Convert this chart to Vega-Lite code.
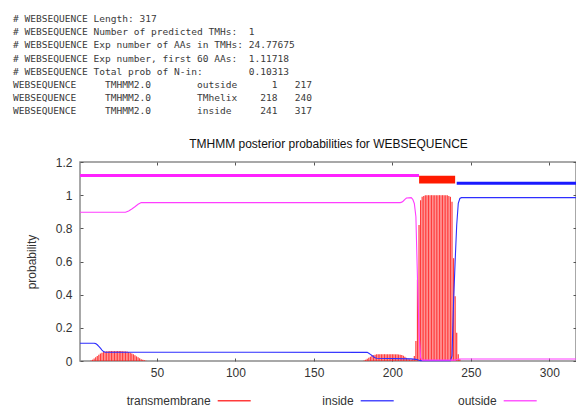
{
  "$schema": "https://vega.github.io/schema/vega-lite/v6.json",
  "width": 496,
  "height": 199,
  "autosize": {"type": "none"},
  "padding": {"left": 80, "top": 162, "right": 0, "bottom": 49},
  "background": "white",
  "title": {
    "text": [
      "# WEBSEQUENCE Length: 317",
      "# WEBSEQUENCE Number of predicted TMHs:\u00a0\u00a01",
      "# WEBSEQUENCE Exp number of AAs in TMHs: 24.77675",
      "# WEBSEQUENCE Exp number, first 60 AAs:\u00a0\u00a01.11718",
      "# WEBSEQUENCE Total prob of N-in:\u00a0\u00a0\u00a0\u00a0\u00a0\u00a0\u00a0\u00a00.10313",
      "WEBSEQUENCE\u00a0\u00a0\u00a0\u00a0\u00a0TMHMM2.0\u00a0\u00a0\u00a0\u00a0\u00a0\u00a0\u00a0\u00a0outside\u00a0\u00a0\u00a0\u00a0\u00a0\u00a01\u00a0\u00a0\u00a0217",
      "WEBSEQUENCE\u00a0\u00a0\u00a0\u00a0\u00a0TMHMM2.0\u00a0\u00a0\u00a0\u00a0\u00a0\u00a0\u00a0\u00a0TMhelix\u00a0\u00a0\u00a0\u00a0218\u00a0\u00a0\u00a0240",
      "WEBSEQUENCE\u00a0\u00a0\u00a0\u00a0\u00a0TMHMM2.0\u00a0\u00a0\u00a0\u00a0\u00a0\u00a0\u00a0\u00a0inside\u00a0\u00a0\u00a0\u00a0\u00a0241\u00a0\u00a0\u00a0317"
    ],
    "anchor": "start",
    "frame": "group",
    "dx": -67,
    "offset": 22,
    "font": "DejaVu Sans Mono",
    "fontSize": 9.56,
    "fontWeight": "normal",
    "lineHeight": 13.1,
    "color": "#3a3a3a"
  },
  "datasets": {
    "posterior": [
      {"series": "transmembrane", "pos": 8, "p": 0.003},
      {"series": "transmembrane", "pos": 9, "p": 0.008},
      {"series": "transmembrane", "pos": 10, "p": 0.015},
      {"series": "transmembrane", "pos": 11, "p": 0.022},
      {"series": "transmembrane", "pos": 12, "p": 0.03},
      {"series": "transmembrane", "pos": 13, "p": 0.038},
      {"series": "transmembrane", "pos": 14, "p": 0.045},
      {"series": "transmembrane", "pos": 15, "p": 0.05},
      {"series": "transmembrane", "pos": 16, "p": 0.054},
      {"series": "transmembrane", "pos": 17, "p": 0.057},
      {"series": "transmembrane", "pos": 18, "p": 0.059},
      {"series": "transmembrane", "pos": 19, "p": 0.059},
      {"series": "transmembrane", "pos": 20, "p": 0.06},
      {"series": "transmembrane", "pos": 21, "p": 0.06},
      {"series": "transmembrane", "pos": 22, "p": 0.06},
      {"series": "transmembrane", "pos": 23, "p": 0.06},
      {"series": "transmembrane", "pos": 24, "p": 0.06},
      {"series": "transmembrane", "pos": 25, "p": 0.06},
      {"series": "transmembrane", "pos": 26, "p": 0.06},
      {"series": "transmembrane", "pos": 27, "p": 0.06},
      {"series": "transmembrane", "pos": 28, "p": 0.059},
      {"series": "transmembrane", "pos": 29, "p": 0.059},
      {"series": "transmembrane", "pos": 30, "p": 0.058},
      {"series": "transmembrane", "pos": 31, "p": 0.057},
      {"series": "transmembrane", "pos": 32, "p": 0.054},
      {"series": "transmembrane", "pos": 33, "p": 0.05},
      {"series": "transmembrane", "pos": 34, "p": 0.045},
      {"series": "transmembrane", "pos": 35, "p": 0.04},
      {"series": "transmembrane", "pos": 36, "p": 0.034},
      {"series": "transmembrane", "pos": 37, "p": 0.028},
      {"series": "transmembrane", "pos": 38, "p": 0.022},
      {"series": "transmembrane", "pos": 39, "p": 0.016},
      {"series": "transmembrane", "pos": 40, "p": 0.011},
      {"series": "transmembrane", "pos": 41, "p": 0.007},
      {"series": "transmembrane", "pos": 42, "p": 0.004},
      {"series": "transmembrane", "pos": 43, "p": 0.002},
      {"series": "transmembrane", "pos": 182, "p": 0.003},
      {"series": "transmembrane", "pos": 183, "p": 0.008},
      {"series": "transmembrane", "pos": 184, "p": 0.014},
      {"series": "transmembrane", "pos": 185, "p": 0.02},
      {"series": "transmembrane", "pos": 186, "p": 0.026},
      {"series": "transmembrane", "pos": 187, "p": 0.031},
      {"series": "transmembrane", "pos": 188, "p": 0.035},
      {"series": "transmembrane", "pos": 189, "p": 0.038},
      {"series": "transmembrane", "pos": 190, "p": 0.04},
      {"series": "transmembrane", "pos": 191, "p": 0.04},
      {"series": "transmembrane", "pos": 192, "p": 0.041},
      {"series": "transmembrane", "pos": 193, "p": 0.041},
      {"series": "transmembrane", "pos": 194, "p": 0.041},
      {"series": "transmembrane", "pos": 195, "p": 0.041},
      {"series": "transmembrane", "pos": 196, "p": 0.041},
      {"series": "transmembrane", "pos": 197, "p": 0.041},
      {"series": "transmembrane", "pos": 198, "p": 0.041},
      {"series": "transmembrane", "pos": 199, "p": 0.041},
      {"series": "transmembrane", "pos": 200, "p": 0.04},
      {"series": "transmembrane", "pos": 201, "p": 0.04},
      {"series": "transmembrane", "pos": 202, "p": 0.04},
      {"series": "transmembrane", "pos": 203, "p": 0.04},
      {"series": "transmembrane", "pos": 204, "p": 0.039},
      {"series": "transmembrane", "pos": 205, "p": 0.038},
      {"series": "transmembrane", "pos": 206, "p": 0.036},
      {"series": "transmembrane", "pos": 207, "p": 0.032},
      {"series": "transmembrane", "pos": 208, "p": 0.026},
      {"series": "transmembrane", "pos": 209, "p": 0.019},
      {"series": "transmembrane", "pos": 210, "p": 0.014},
      {"series": "transmembrane", "pos": 211, "p": 0.01},
      {"series": "transmembrane", "pos": 212, "p": 0.009},
      {"series": "transmembrane", "pos": 213, "p": 0.012},
      {"series": "transmembrane", "pos": 214, "p": 0.03},
      {"series": "transmembrane", "pos": 215, "p": 0.12},
      {"series": "transmembrane", "pos": 216, "p": 0.49},
      {"series": "transmembrane", "pos": 217, "p": 0.82},
      {"series": "transmembrane", "pos": 218, "p": 0.97},
      {"series": "transmembrane", "pos": 219, "p": 0.99},
      {"series": "transmembrane", "pos": 220, "p": 0.995},
      {"series": "transmembrane", "pos": 221, "p": 1.0},
      {"series": "transmembrane", "pos": 222, "p": 1.0},
      {"series": "transmembrane", "pos": 223, "p": 1.0},
      {"series": "transmembrane", "pos": 224, "p": 1.0},
      {"series": "transmembrane", "pos": 225, "p": 1.0},
      {"series": "transmembrane", "pos": 226, "p": 1.0},
      {"series": "transmembrane", "pos": 227, "p": 1.0},
      {"series": "transmembrane", "pos": 228, "p": 1.0},
      {"series": "transmembrane", "pos": 229, "p": 1.0},
      {"series": "transmembrane", "pos": 230, "p": 1.0},
      {"series": "transmembrane", "pos": 231, "p": 1.0},
      {"series": "transmembrane", "pos": 232, "p": 1.0},
      {"series": "transmembrane", "pos": 233, "p": 1.0},
      {"series": "transmembrane", "pos": 234, "p": 1.0},
      {"series": "transmembrane", "pos": 235, "p": 1.0},
      {"series": "transmembrane", "pos": 236, "p": 0.995},
      {"series": "transmembrane", "pos": 237, "p": 0.99},
      {"series": "transmembrane", "pos": 238, "p": 0.96},
      {"series": "transmembrane", "pos": 239, "p": 0.62},
      {"series": "transmembrane", "pos": 240, "p": 0.39},
      {"series": "transmembrane", "pos": 241, "p": 0.17},
      {"series": "transmembrane", "pos": 242, "p": 0.04},
      {"series": "transmembrane", "pos": 243, "p": 0.01},
      {"series": "inside", "pos": 1, "p": 0.107},
      {"series": "inside", "pos": 10, "p": 0.107},
      {"series": "inside", "pos": 11, "p": 0.105},
      {"series": "inside", "pos": 12, "p": 0.098},
      {"series": "inside", "pos": 13, "p": 0.088},
      {"series": "inside", "pos": 14, "p": 0.077},
      {"series": "inside", "pos": 15, "p": 0.066},
      {"series": "inside", "pos": 16, "p": 0.057},
      {"series": "inside", "pos": 17, "p": 0.053},
      {"series": "inside", "pos": 184, "p": 0.052},
      {"series": "inside", "pos": 185, "p": 0.047},
      {"series": "inside", "pos": 186, "p": 0.04},
      {"series": "inside", "pos": 187, "p": 0.033},
      {"series": "inside", "pos": 188, "p": 0.026},
      {"series": "inside", "pos": 189, "p": 0.02},
      {"series": "inside", "pos": 190, "p": 0.017},
      {"series": "inside", "pos": 212, "p": 0.013},
      {"series": "inside", "pos": 215, "p": 0.01},
      {"series": "inside", "pos": 217, "p": 0.004},
      {"series": "inside", "pos": 218, "p": 0.002},
      {"series": "inside", "pos": 237, "p": 0.002},
      {"series": "inside", "pos": 238, "p": 0.03},
      {"series": "inside", "pos": 239, "p": 0.36},
      {"series": "inside", "pos": 240, "p": 0.6},
      {"series": "inside", "pos": 241, "p": 0.82},
      {"series": "inside", "pos": 242, "p": 0.95},
      {"series": "inside", "pos": 243, "p": 0.98},
      {"series": "inside", "pos": 244, "p": 0.985},
      {"series": "inside", "pos": 317, "p": 0.985},
      {"series": "outside", "pos": 1, "p": 0.897},
      {"series": "outside", "pos": 30, "p": 0.897},
      {"series": "outside", "pos": 32, "p": 0.905},
      {"series": "outside", "pos": 34, "p": 0.917},
      {"series": "outside", "pos": 36, "p": 0.93},
      {"series": "outside", "pos": 38, "p": 0.945},
      {"series": "outside", "pos": 40, "p": 0.955},
      {"series": "outside", "pos": 205, "p": 0.955},
      {"series": "outside", "pos": 206, "p": 0.958},
      {"series": "outside", "pos": 207, "p": 0.965},
      {"series": "outside", "pos": 208, "p": 0.975},
      {"series": "outside", "pos": 209, "p": 0.983},
      {"series": "outside", "pos": 212, "p": 0.985},
      {"series": "outside", "pos": 213, "p": 0.975},
      {"series": "outside", "pos": 214, "p": 0.95},
      {"series": "outside", "pos": 215, "p": 0.87},
      {"series": "outside", "pos": 216, "p": 0.5},
      {"series": "outside", "pos": 217, "p": 0.17},
      {"series": "outside", "pos": 218, "p": 0.02},
      {"series": "outside", "pos": 219, "p": 0.005},
      {"series": "outside", "pos": 240, "p": 0.005},
      {"series": "outside", "pos": 242, "p": 0.012},
      {"series": "outside", "pos": 317, "p": 0.012}
    ],
    "regions": [
      {"region": "outside", "start": 1, "end": 217},
      {"region": "TMhelix", "start": 218, "end": 240},
      {"region": "inside", "start": 241, "end": 317}
    ]
  },
  "layer": [
    {
      "data": {"name": "posterior"},
      "transform": [{"filter": "datum.series === 'transmembrane'"}],
      "mark": {"type": "rule", "strokeWidth": 1.2, "opacity": 0.85},
      "encoding": {
        "x": {"field": "pos", "type": "quantitative",
              "scale": {"domain": [1, 317], "nice": false, "zero": false},
              "axis": {"orient": "bottom", "values": [50, 100, 150, 200, 250, 300], "title": null, "labelPadding": 9}},
        "y": {"field": "p", "type": "quantitative",
              "scale": {"domain": [0, 1.2], "nice": false},
              "axis": {"orient": "left", "values": [0, 0.2, 0.4, 0.6, 0.8, 1, 1.2], "format": "~g", "title": "probability", "labelPadding": 11, "titlePadding": 17}},
        "y2": {"datum": 0},
        "color": {"field": "series", "type": "nominal",
                  "scale": {"domain": ["transmembrane", "inside", "outside"], "range": ["#ff1a1a", "#2e2eff", "#ff3dff"]},
                  "legend": {
                    "orient": "none", "legendX": 136.7, "legendY": 221, "direction": "horizontal", "columns": 3,
                    "title": null, "symbolType": "stroke", "symbolSize": 1089, "symbolStrokeWidth": 1.5,
                    "labelFont": "Liberation Sans", "labelFontSize": 12, "labelColor": "#333333",
                    "labelAlign": "right", "labelOffset": -41, "columnPadding": 61, "gridAlign": "all", "padding": 0
                  }}
      }
    },
    {
      "data": {"name": "posterior"},
      "transform": [{"filter": "datum.series === 'inside'"}],
      "mark": {"type": "line", "strokeWidth": 1.1},
      "encoding": {
        "x": {"field": "pos", "type": "quantitative", "scale": {"domain": [1, 317], "nice": false, "zero": false}, "axis": null},
        "y": {"field": "p", "type": "quantitative", "scale": {"domain": [0, 1.2], "nice": false},
              "axis": {"orient": "right", "values": [0, 0.2, 0.4, 0.6, 0.8, 1, 1.2], "labels": false, "title": null}},
        "color": {"field": "series", "type": "nominal"}
      }
    },
    {
      "data": {"name": "posterior"},
      "transform": [{"filter": "datum.series === 'outside'"}],
      "mark": {"type": "line", "strokeWidth": 1.1},
      "encoding": {
        "x": {"field": "pos", "type": "quantitative", "scale": {"domain": [1, 317], "nice": false, "zero": false}, "axis": null},
        "y": {"field": "p", "type": "quantitative", "scale": {"domain": [0, 1.2], "nice": false}, "axis": null},
        "color": {"field": "series", "type": "nominal"}
      }
    },
    {
      "data": {"name": "regions"},
      "transform": [{"filter": "datum.region === 'outside'"}],
      "mark": {"type": "rule", "strokeWidth": 3, "color": "#ff22ff"},
      "encoding": {
        "x": {"field": "start", "type": "quantitative", "scale": {"domain": [1, 317], "nice": false, "zero": false},
              "axis": {"orient": "top", "values": [50, 100, 150, 200, 250, 300], "labels": false,
                       "title": "TMHMM posterior probabilities for WEBSEQUENCE", "titlePadding": 11, "titleColor": "#111111"}},
        "x2": {"field": "end"},
        "y": {"datum": 1.118, "type": "quantitative", "scale": {"domain": [0, 1.2], "nice": false}, "axis": null}
      }
    },
    {
      "data": {"name": "regions"},
      "transform": [{"filter": "datum.region === 'TMhelix'"}],
      "mark": {"type": "rect", "color": "#ff1a00", "xOffset": -1.5},
      "encoding": {
        "x": {"field": "start", "type": "quantitative", "scale": {"domain": [1, 317], "nice": false, "zero": false}, "axis": null},
        "x2": {"field": "end"},
        "y": {"datum": 1.07, "type": "quantitative", "scale": {"domain": [0, 1.2], "nice": false}, "axis": null},
        "y2": {"datum": 1.117}
      }
    },
    {
      "data": {"name": "regions"},
      "transform": [{"filter": "datum.region === 'inside'"}],
      "mark": {"type": "rule", "strokeWidth": 3, "color": "#1a1aff"},
      "encoding": {
        "x": {"field": "start", "type": "quantitative", "scale": {"domain": [1, 317], "nice": false, "zero": false}, "axis": null},
        "x2": {"field": "end"},
        "y": {"datum": 1.072, "type": "quantitative", "scale": {"domain": [0, 1.2], "nice": false}, "axis": null}
      }
    }
  ],
  "config": {
    "view": {"stroke": "#8c8c8c", "strokeWidth": 1.5},
    "axis": {
      "domain": false, "grid": false, "tickColor": "#555555", "tickSize": -3, "tickWidth": 1,
      "labelFont": "Liberation Sans", "labelFontSize": 12, "labelColor": "#333333",
      "titleFont": "Liberation Sans", "titleFontSize": 12, "titleFontWeight": "normal", "titleColor": "#333333"
    }
  }
}
